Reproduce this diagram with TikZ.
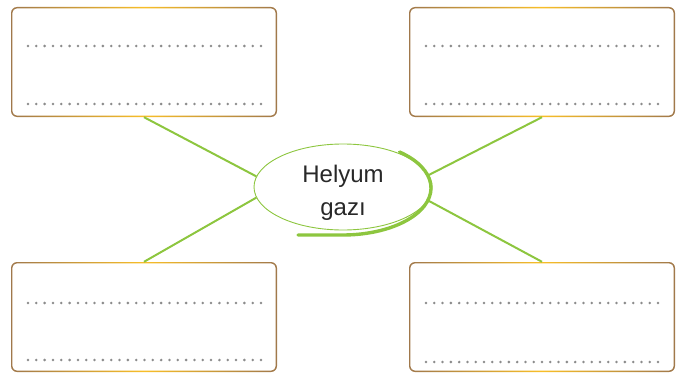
\documentclass[tikz,border=0pt]{standalone}
\usepackage{fontspec}
\setmainfont{Liberation Sans}
\usetikzlibrary{shapes.geometric,calc}
\definecolor{lgreen}{RGB}{141,198,63}
\definecolor{bbrown}{RGB}{160,120,75}
\definecolor{bgold}{RGB}{248,190,40}
\definecolor{dotgray}{RGB}{140,140,140}
\definecolor{txt}{RGB}{40,40,40}
\tikzset{
  outerbox/.style={rectangle, rounded corners=6pt, minimum width=266pt, minimum height=110pt,
    left color=bbrown, right color=bbrown, middle color=bgold, inner sep=0pt},
  innerbox/.style={rectangle, rounded corners=5pt, minimum width=263.4pt, minimum height=107.4pt,
    fill=white, inner sep=0pt},
  conn/.style={lgreen, line width=2pt},
  dotrow/.style={fill=dotgray},
}
\newcommand{\dotline}[3]{% x0, x1, y
  \foreach \k in {0,...,28}{\fill[dotrow] ({#1+(#2-#1)*\k/28},#3) circle (1.4pt);}}
\begin{document}
\begin{tikzpicture}[x=1pt,y=-1pt]
\useasboundingbox (0,0) rectangle (684,377);
% boxes
\node[outerbox] (tl) at (144,62) {};
\node[innerbox] (tli) at (tl) {};
\node[outerbox] (tr) at (542,62) {};
\node[innerbox] (tri) at (tr) {};
\node[outerbox] (bl) at (144,317) {};
\node[innerbox] (bli) at (bl) {};
\node[outerbox] (br) at (542,317) {};
\node[innerbox] (bri) at (br) {};
% dotted lines
\dotline{28}{261}{46}
\dotline{28}{261}{104}
\dotline{426}{658}{46}
\dotline{426}{658}{104}
\dotline{28}{261}{303}
\dotline{28}{261}{360}
\dotline{426}{658}{303}
\dotline{426}{658}{362}
% centre ellipse
\node[ellipse, draw=lgreen, line width=0.9pt, fill=white, minimum width=178pt, minimum height=86pt,
  inner sep=0pt] (c) at (343,187) {};
\draw[lgreen, line width=3.4pt, line cap=round]
  ($(343,188)+(50:88pt and 47pt)$) arc[start angle=50, end angle=-90, x radius=88pt, y radius=47pt]
  -- ++(-45,0);
\node[text=txt, font=\fontsize{24}{33}\selectfont, align=center] (t) at (343,193) {Helyum\\gazı};
% connectors
\draw[conn] (tl.south) -- (c.173);
\draw[conn] (bl.north) -- (c.187);
\draw[conn] (tr.south) -- (c.8);
\draw[conn] (br.north) -- (c.-9);
\end{tikzpicture}
\end{document}
